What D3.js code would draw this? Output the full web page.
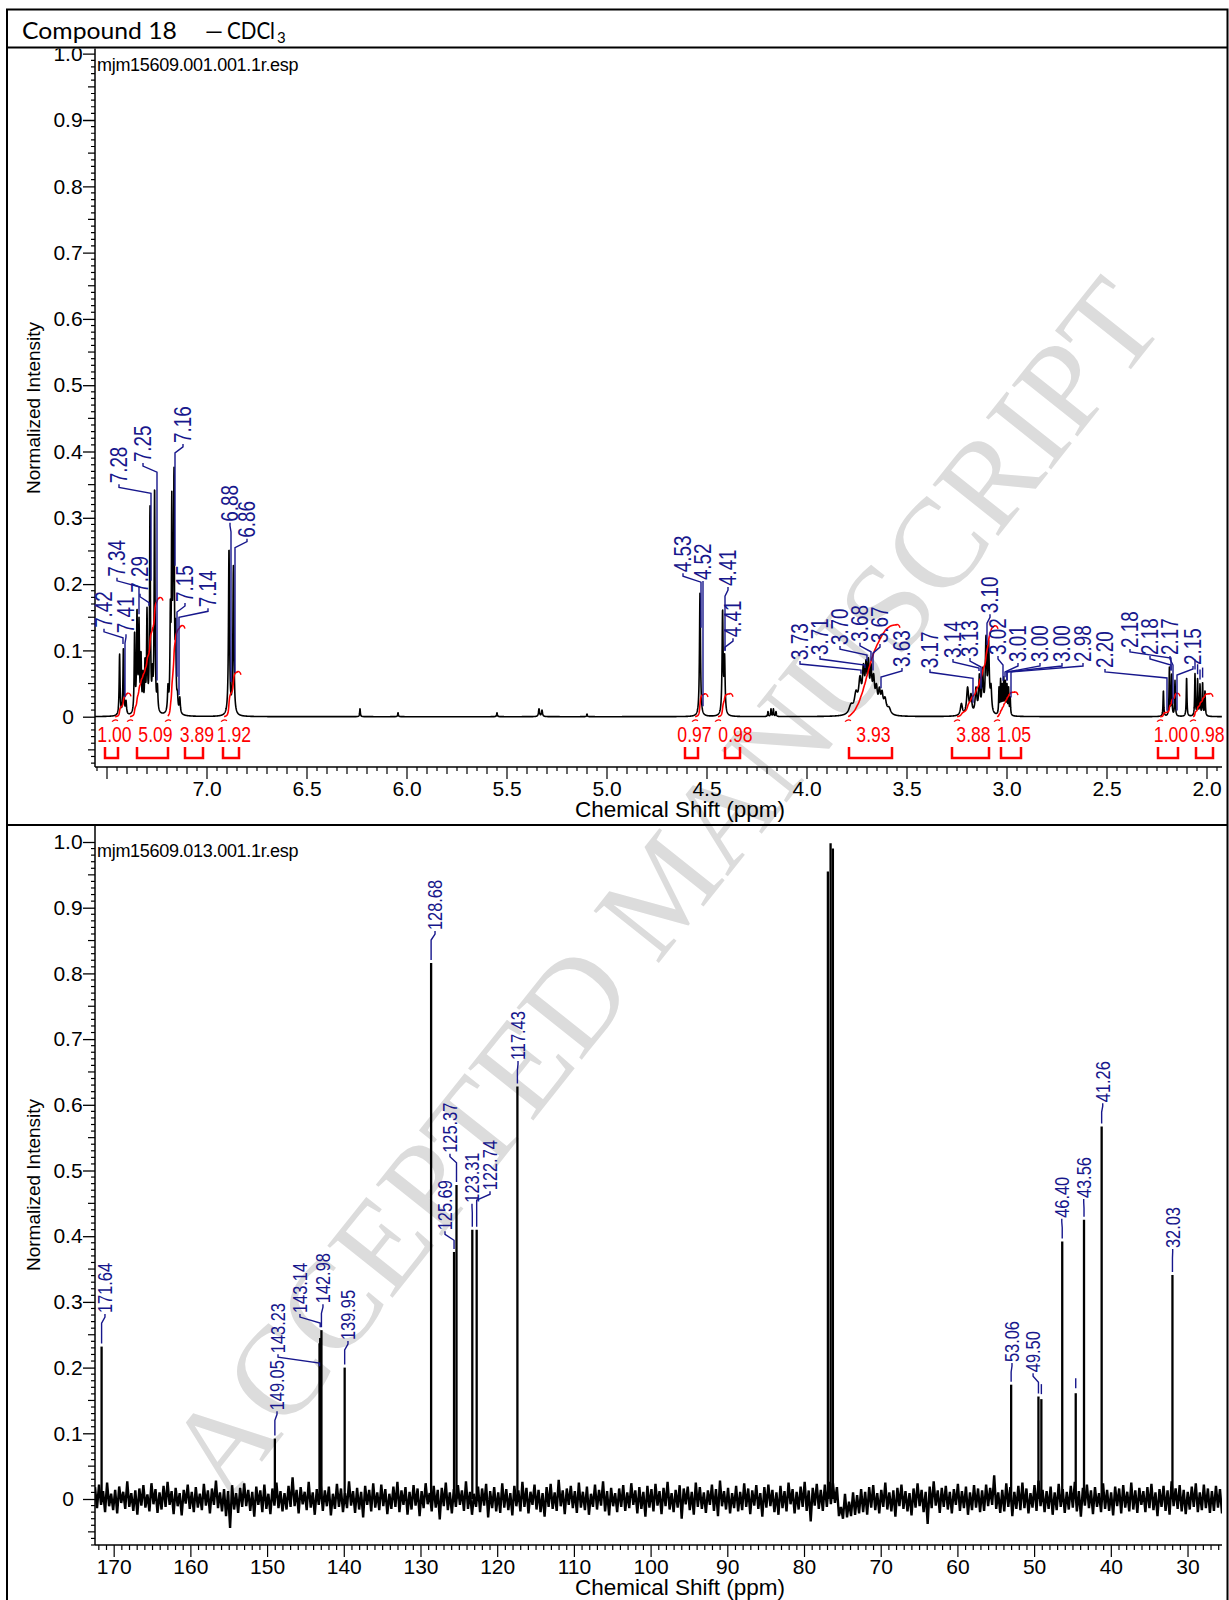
<!DOCTYPE html>
<html><head><meta charset="utf-8">
<script src="https://cdn.jsdelivr.net/npm/d3@7/dist/d3.min.js"></script>
<style>
html,body{margin:0;padding:0;background:#fff;}
</style></head><body>
<svg id="fig" width="1229" height="1600" xmlns="http://www.w3.org/2000/svg"></svg>
<script>
// ---------------- DATA ----------------
const titleParts = ["Compound 18", "\u2013", "CDCl", "3"];
const watermark = "ACCEPTED MANUSCRIPT";
const axisTitleX = "Chemical Shift (ppm)";
const axisTitleY = "Normalized Intensity";
const h1FileName = "mjm15609.001.001.1r.esp";
const c13FileName = "mjm15609.013.001.1r.esp";

const h1Domain = [7.56, 1.925];
const c13Domain = [172.5, 25.57];
const intensityTickLabels = ["0","0.1","0.2","0.3","0.4","0.5","0.6","0.7","0.8","0.9","1.0"];
const h1TickLabels = ["7.0","6.5","6.0","5.5","5.0","4.5","4.0","3.5","3.0","2.5","2.0"];
const c13TickLabels = ["170","160","150","140","130","120","110","100","90","80","70","60","50","40","30"];

// 1H peaks: [ppm, height, half-width (ppm)]
const h1Peaks = [
 [7.437,0.095,0.0025],[7.418,0.105,0.0025],[7.405,0.025,0.003],
 [7.362,0.13,0.0025],[7.350,0.165,0.0025],[7.340,0.15,0.0025],[7.330,0.10,0.0025],[7.320,0.07,0.0025],
 [7.310,0.09,0.0025],[7.300,0.165,0.0025],[7.285,0.32,0.0025],[7.273,0.08,0.0025],[7.262,0.35,0.0025],[7.248,0.05,0.003],
 [7.195,0.05,0.003],[7.183,0.18,0.0025],[7.176,0.34,0.0022],[7.170,0.22,0.0022],[7.165,0.38,0.0022],[7.157,0.15,0.0025],
 [7.148,0.04,0.003],[7.136,0.03,0.003],
 [6.890,0.255,0.003],[6.868,0.228,0.003],
 [6.235,0.012,0.002],[6.045,0.006,0.002],[5.55,0.006,0.002],[5.34,0.012,0.003],[5.325,0.01,0.003],[5.10,0.004,0.002],
 [4.535,0.187,0.003],[4.422,0.163,0.003],[4.412,0.095,0.003],
 [4.195,0.008,0.002],[4.18,0.012,0.002],[4.168,0.012,0.002],[4.155,0.008,0.002],
 [3.78,0.02,0.012],[3.755,0.04,0.01],[3.735,0.062,0.008],[3.718,0.08,0.006],[3.705,0.086,0.005],[3.693,0.089,0.005],
 [3.68,0.08,0.005],[3.667,0.065,0.006],[3.653,0.05,0.006],[3.638,0.045,0.006],[3.625,0.04,0.006],[3.61,0.03,0.008],[3.59,0.015,0.01],
 [3.228,0.02,0.006],[3.197,0.045,0.006],[3.18,0.035,0.005],[3.155,0.045,0.005],[3.138,0.065,0.004],[3.122,0.075,0.004],
 [3.105,0.123,0.004],[3.092,0.115,0.004],[3.08,0.05,0.004],
 [3.040,0.045,0.002],[3.032,0.058,0.002],[3.024,0.05,0.002],[3.016,0.06,0.002],[3.008,0.055,0.002],[3.000,0.05,0.002],
 [2.992,0.045,0.002],[2.984,0.03,0.002],
 [2.218,0.04,0.002],[2.188,0.075,0.002],[2.177,0.065,0.002],[2.16,0.055,0.002],[2.102,0.06,0.002],
 [2.06,0.065,0.002],[2.047,0.058,0.002],[2.035,0.05,0.002],[2.022,0.053,0.002],[2.01,0.04,0.002]
];
// 1H peak labels: [text, label position (ppm), label foot (intensity)]
const h1Labels = [
 ["7.42",7.515,0.134],["7.41",7.405,0.126],["7.34",7.45,0.211],["7.29",7.335,0.187],
 ["7.28",7.44,0.352],["7.25",7.32,0.384],["7.16",7.12,0.413],["7.15",7.11,0.173],["7.14",6.995,0.165],
 ["6.88",6.885,0.294],["6.86",6.80,0.270],
 ["4.53",4.62,0.218],["4.52",4.52,0.206],["4.41",4.395,0.197],["4.41",4.37,0.120],
 ["3.73",4.035,0.0855],["3.71",3.935,0.093],["3.70",3.835,0.108],["3.68",3.735,0.113],["3.67",3.635,0.111],["3.63",3.525,0.075],
 ["3.17",3.385,0.073],["3.14",3.27,0.0885],["3.13",3.185,0.090],["3.10",3.085,0.156],
 ["3.02",3.045,0.093],["3.01",2.945,0.0825],["3.00",2.835,0.0825],["3.00",2.725,0.0825],["2.98",2.62,0.0825],
 ["2.20",2.51,0.0735],["2.18",2.385,0.1036],["2.18",2.285,0.093],["2.17",2.185,0.093],["2.15",2.07,0.078]
];
// picked but unlabelled 1H peaks (ppm)
const h1Marks = [2.06, 2.047, 2.035, 2.022];
// integrals: [value, curve from, curve to, bracket from, bracket to] (ppm)
const h1Integrals = [
 [1.00,7.46,7.395,7.51,7.445],[5.09,7.385,7.235,7.35,7.195],[3.89,7.195,7.125,7.11,7.02],[1.92,6.915,6.845,6.92,6.84],
 [0.97,4.56,4.51,4.61,4.545],[0.98,4.445,4.385,4.41,4.335],[3.93,3.795,3.55,3.79,3.575],[3.88,3.25,3.06,3.275,3.09],
 [1.05,3.05,2.96,3.03,2.93],[1.00,2.235,2.15,2.245,2.145],[0.98,2.07,1.985,2.055,1.97]
];
const integralScale = 0.0353;

// 13C peaks: [ppm, height]
const c13Peaks = [
 [171.64,0.232],[149.05,0.092],[143.23,0.237],[143.14,0.245],[142.98,0.257],[139.95,0.20],[128.68,0.816],
 [125.69,0.376],[125.37,0.478],[123.31,0.41],[122.74,0.41],[117.43,0.628],
 [76.95,0.955],[76.6,0.998],[76.3,0.99],
 [53.06,0.174],[49.50,0.156],[49.12,0.152],[46.40,0.392],[44.64,0.161],[43.56,0.425],[41.26,0.567],[32.03,0.341]
];
const c13Labels = [
 ["171.64",171.2,0.283],["149.05",148.77,0.135],["143.23",148.64,0.222],["143.14",145.78,0.283],["142.98",142.78,0.298],
 ["139.95",139.52,0.242],["128.68",128.17,0.866],["125.69",126.87,0.409],["125.37",126.22,0.527],["123.31",123.35,0.451],
 ["122.74",121.0,0.470],["117.43",117.35,0.668],["53.06",52.95,0.2085],["49.50",50.2,0.193],["46.40",46.46,0.428],
 ["43.56",43.6,0.458],["41.26",41.12,0.604],["32.03",32.0,0.382]
];
const c13Marks = [44.64, 49.12];
// 13C baseline noise (x 0.001 intensity), evenly spaced across the ppm range
const c13Noise = [
18,-14,22,-9,12,-20,25,-11,8,-17,14,-22,19,-6,11,-15,27,-12,9,-18,
13,-24,16,-10,21,-13,7,-19,24,-8,15,-21,10,-16,20,-12,26,-9,12,-23,
17,-11,9,-25,14,-7,22,-15,11,-20,18,-13,8,-17,23,-10,13,-22,16,-9,
28,-14,10,-19,15,-26,12,-44,21,-16,9,-21,17,-12,24,-11,14,-18,11,-27,
19,-9,13,-20,22,-15,8,-23,16,-10,25,-14,12,-19,9,-16,20,-12,33,-11,
14,-22,18,-8,11,-17,26,-13,10,-24,15,-9,21,-18,13,-11,19,-25,8,-15,
23,-12,16,-20,9,-14,27,-10,12,-21,17,-16,11,-28,20,-9,14,-19,24,-13,
10,-17,22,-11,15,-23,8,-15,19,-12,26,-20,13,-9,18,-24,11,-16,21,-10,
16,-26,12,-14,24,-8,9,-19,20,-13,14,-31,17,-11,25,-17,10,-22,15,-12,
21,-9,13,-18,27,-15,11,-24,8,-12,19,-20,16,-10,23,-28,12,-14,18,-19,
10,-21,24,-13,15,-17,9,-25,20,-11,13,-19,26,-12,17,-22,11,-9,22,-16,
14,-20,9,-27,18,-12,23,-15,10,-18,29,-11,13,-23,16,-9,20,-14,12,-21,
25,-13,11,-17,19,-24,8,-12,22,-16,14,-10,27,-19,12,-25,17,-11,9,-20,
16,-12,21,-18,10,-14,24,-9,13,-22,18,-15,11,-27,20,-13,15,-19,23,-10,
12,-23,17,-11,26,-16,9,-20,14,-13,21,-30,16,-8,19,-17,11,-24,25,-12,
18,-15,10,-21,13,-9,22,-18,15,-26,28,-11,12,-16,17,-22,9,-14,20,-19,
11,-17,24,-12,16,-23,13,-10,21,-15,9,-27,18,-13,22,-11,14,-20,10,-24,
20,-14,12,-19,25,-8,15,-22,11,-16,19,-12,26,-18,13,-34,17,-10,23,-15,
14,-18,22,-12,26,-8,24,-6,18,-26,-12,-30,8,-28,-4,-26,10,-24,6,-22,
15,-20,11,-24,18,-13,21,-17,9,-22,14,-12,25,-16,10,-19,13,-27,17,-11,
22,-15,12,-19,9,-25,16,-13,24,-11,14,-20,11,-38,19,-14,27,-10,13,-21,
17,-12,20,-16,11,-22,15,-9,23,-18,12,-14,19,-24,10,-17,21,-13,16,-20,
13,-18,22,-11,17,-9,36,-15,10,-21,14,-19,24,-12,18,-26,11,-15,20,-17,
25,-14,16,-22,9,-13,21,-18,28,-11,14,-20,12,-15,19,-24,10,-17,23,-12,
15,-21,11,-16,20,-13,26,-19,12,-27,17,-10,22,-14,13,-23,18,-12,9,-20,
24,-15,14,-18,10,-25,19,-11,16,-22,21,-13,11,-19,25,-16,13,-21,17,-9,
12,-20,18,-14,23,-17,10,-26,15,-12,20,-18,13,-24,27,-11,16,-15,21,-19,
14,-23,11,-16,19,-12,24,-20,10,-17,22,-14,16,-21,12,-18,20,-13,15,-22
];

// ---------------- STYLE / LAYOUT ----------------
const SANS = "'Liberation Sans',Arial,Helvetica,sans-serif";
const BLUE = "#17178c", RED = "#ff0000", NARROW = 0.82;
const PL = 95, PR = 1222;
const svg = d3.select("#fig").style("font-family", SANS);
const defs = svg.append("defs");
function clip(id,x,y,w,h){ defs.append("clipPath").attr("id",id).append("rect").attr("x",x).attr("y",y).attr("width",w).attr("height",h); return `url(#${id})`; }
svg.append("rect").attr("width",1229).attr("height",1600).attr("fill","#fff");

// watermark (behind)
const wm = svg.append("text").text(watermark)
 .style("font-family","'Liberation Serif','DejaVu Serif',serif").attr("font-size",120)
 .attr("fill","#dcdcdc").attr("text-anchor","middle").attr("dominant-baseline","central")
 .attr("transform","translate(664,888) rotate(-51.5)");
{ const wl = wm.node().getComputedTextLength(); wm.attr("font-size", 120*1510/wl); }

function narrow(g, x, y, rot, size, txt, fill, anchor){
  return g.append("text").attr("transform",`translate(${x},${y}) rotate(${rot}) scale(${NARROW},1)`)
    .attr("font-size",size).attr("fill",fill).attr("text-anchor",anchor||"start").text(txt);
}

// ---------------- 1H model ----------------
const H = h1Peaks.map(d=>({x:d[0], t:d[1], w:d[2], a:d[1]}));
function hAt(x){ let s=0; for(const p of H){ const d=(x-p.x)/p.w; if(d>-500&&d<500) s+=p.a/(1+d*d);} return s; }
for(let it=0; it<80; it++){ for(const p of H){ const s=hAt(p.x); p.a=Math.max(0.0003, p.a+0.5*(p.t-s)); } }
const h1Spec = [];
for(let x=h1Domain[0]; x>=h1Domain[1]; x-=0.0008) h1Spec.push([x, hAt(x)]);
function hTop(ppm){ let m=0; for(let k=-3;k<=3;k++) m=Math.max(m,hAt(ppm+k*0.001)); return m; }

function drawAxes(g, x, y, yBottom, yTopPx, xTickVals, xTickLen, xLabels){
  d3.range(-7,101).forEach(i=>{
    if(i%10===0) return;
    const len = i%5===0 ? 7 : 4, yy = y(i/100);
    if(yy>yBottom) return;
    g.append("line").attr("x1",PL-len).attr("x2",PL).attr("y1",yy).attr("y2",yy).attr("stroke","#000").attr("stroke-width",1.2);
  });
  const ay = d3.axisLeft(y).tickValues(d3.range(0,11).map(i=>i/10)).tickSize(12).tickSizeOuter(0)
     .tickFormat((d,i)=>intensityTickLabels[i]);
  const gy = g.append("g").attr("transform",`translate(${PL},0)`).call(ay);
  gy.select(".domain").remove();
  gy.attr("font-size",21).attr("font-family",SANS);
  gy.selectAll("line").attr("stroke-width",1.3);
  gy.selectAll("text").attr("x",-27).attr("text-anchor","middle").attr("fill","#000");
  xTickVals.forEach(v=>{
    const len = xTickLen(v), xx = x(v);
    g.append("line").attr("x1",xx).attr("x2",xx).attr("y1",yBottom).attr("y2",yBottom+len).attr("stroke","#000").attr("stroke-width",1.2);
  });
  xLabels.forEach(t=>{
    g.append("text").attr("x",x(+t)).attr("y",yBottom+28.5).attr("text-anchor","middle").attr("font-size",21).text(t);
  });
  g.append("line").attr("x1",PL).attr("x2",PL).attr("y1",yTopPx).attr("y2",yBottom).attr("stroke","#000").attr("stroke-width",1.5);
  g.append("line").attr("x1",PL).attr("x2",PR).attr("y1",yBottom).attr("y2",yBottom).attr("stroke","#000").attr("stroke-width",1.5);
}

function leaderPath(lx, tb, px, topY){
  const y1 = tb + 4, y2 = tb + 10;
  const yEnd = Math.max(topY - 3, y2 + 3);
  return `M${lx},${tb+1}L${lx},${y1}L${px},${y2}L${px},${yEnd}`;
}

// ---------------- TOP PANEL (1H) ----------------
const xH = d3.scaleLinear().domain(h1Domain).range([PL,PR]);
const yH = d3.scaleLinear().domain([0,1]).range([716.7,53.7]);
const gT = svg.append("g").attr("clip-path", clip("cTop",7,48.5,1220,776));
const topBottom = 767;

const h1TickVals = d3.range(39,152).map(i=>i*0.05);
drawAxes(gT, xH, yH, topBottom, 48, h1TickVals,
  v=>{ const i=Math.round(v/0.05); return i%10===0?12:(i%2===0?7:4); }, h1TickLabels);

gT.append("text").attr("x",97).attr("y",71).attr("font-size",18).attr("letter-spacing",-0.3).text(h1FileName);
gT.append("text").attr("transform","translate(40,408) rotate(-90)").attr("text-anchor","middle").attr("font-size",19).text(axisTitleY);
gT.append("text").attr("x",680).attr("y",817).attr("text-anchor","middle").attr("font-size",22.5).text(axisTitleX);

const gTP = gT.append("g").attr("clip-path", clip("cTopPlot",PL,48.5,PR-PL,topBottom-48.5));
gTP.append("path").datum(h1Spec)
  .attr("d", d3.line().x(d=>xH(d[0])).y(d=>yH(d[1])))
  .attr("fill","none").attr("stroke","#000").attr("stroke-width",1.6).attr("stroke-linejoin","round");

// integrals
h1Integrals.forEach(([val,f,t,bf,bt])=>{
  const pts = h1Spec.filter(d=>d[0]<=f && d[0]>=t);
  let c=0; const cum = pts.map(d=>{ c+=d[1]; return [d[0], c]; });
  const tot = c || 1;
  const curve = cum.map(d=>[d[0], d[1]/tot*val*integralScale]);
  gTP.append("path").datum(curve).attr("d", d3.line().x(d=>xH(d[0])).y(d=>yH(d[1])))
    .attr("fill","none").attr("stroke",RED).attr("stroke-width",1.6);
  const xs = xH(f), xe = xH(t), ye = yH(val*integralScale), y0 = yH(0);
  gTP.append("path").attr("d",`M${xe-1},${ye}q3,-1 4,3`).attr("fill","none").attr("stroke",RED).attr("stroke-width",1.4);
  gTP.append("path").attr("d",`M${xs-3},${y0+5}q3,-3 6,-1`).attr("fill","none").attr("stroke",RED).attr("stroke-width",1.2);
  const x1 = xH(bf), x2 = xH(bt);
  gTP.append("path").attr("d",`M${x1},747V758H${x2}V747`).attr("fill","none").attr("stroke",RED).attr("stroke-width",2.5);
  narrow(gT, (x1+x2)/2+3, 742, 0, 21.5, val.toFixed(2), RED, "middle");
});

// peak labels
h1Labels.forEach(([t,lp,lv])=>{
  const pk = +t, lx = xH(lp), tb = yH(lv), px = xH(pk), top = yH(hTop(pk));
  gT.append("path").attr("d",leaderPath(lx,tb,px,top)).attr("fill","none").attr("stroke",BLUE).attr("stroke-width",1.4);
  narrow(gT, lx, tb, -90, 23, t, BLUE).attr("dominant-baseline","central");
});
h1Marks.forEach(p=>{
  const top = yH(hTop(p)), xx = xH(p);
  gT.append("line").attr("x1",xx).attr("x2",xx).attr("y1",top-14).attr("y2",top-4).attr("stroke",BLUE).attr("stroke-width",1.4);
});

// ---------------- BOTTOM PANEL (13C) ----------------
const xC = d3.scaleLinear().domain(c13Domain).range([PL,PR]);
const yC = d3.scaleLinear().domain([0,1]).range([1499,842]);
const gB = svg.append("g").attr("clip-path", clip("cBot",7,826,1220,774));
const botBottom = 1545;
const c13TickVals = d3.range(26,173);
drawAxes(gB, xC, yC, botBottom, 826, c13TickVals, v=>(v%10===0?12:5), c13TickLabels);
gB.append("text").attr("x",97).attr("y",857).attr("font-size",18).attr("letter-spacing",-0.3).text(c13FileName);
gB.append("text").attr("transform","translate(40,1185) rotate(-90)").attr("text-anchor","middle").attr("font-size",19).text(axisTitleY);
gB.append("text").attr("x",680).attr("y",1595).attr("text-anchor","middle").attr("font-size",22.5).text(axisTitleX);

const gBP = gB.append("g").attr("clip-path", clip("cBotPlot",PL,826,PR-PL,botBottom-826));
const nStep = (c13Domain[0]-c13Domain[1])/(c13Noise.length-1);
const noisePts = c13Noise.map((v,i)=>[c13Domain[0]-i*nStep, v/1000]);
gBP.append("path").datum(noisePts).attr("d", d3.line().x(d=>xC(d[0])).y(d=>yC(d[1])))
  .attr("fill","none").attr("stroke","#000").attr("stroke-width",2.4).attr("stroke-linejoin","miter");
gBP.selectAll("line.pk").data(c13Peaks).join("line").attr("class","pk")
  .attr("x1",d=>xC(d[0])).attr("x2",d=>xC(d[0])).attr("y1",yC(0)).attr("y2",d=>yC(d[1]))
  .attr("stroke","#000").attr("stroke-width",2.3);

c13Labels.forEach(([t,lp,lv])=>{
  const pk = +t; let h = 0.03;
  c13Peaks.forEach(p=>{ if(Math.abs(p[0]-pk)<0.3) h=Math.max(h,p[1]); });
  const lx = xC(lp), tb = yC(lv), px = xC(pk), top = yC(h);
  gB.append("path").attr("d",leaderPath(lx,tb,px,top)).attr("fill","none").attr("stroke",BLUE).attr("stroke-width",1.4);
  narrow(gB, lx, tb, -90, 20, t, BLUE).attr("dominant-baseline","central");
});
c13Marks.forEach(p=>{
  const pk = c13Peaks.find(d=>Math.abs(d[0]-p)<0.01), xx = xC(p), top = yC(pk ? pk[1] : 0);
  gB.append("line").attr("x1",xx).attr("x2",xx).attr("y1",top-15).attr("y2",top-5).attr("stroke",BLUE).attr("stroke-width",1.4);
});

// ---------------- FRAME + TITLE ----------------
svg.append("path").attr("d","M7,1605V9.5H1227.5V1605").attr("fill","none").attr("stroke","#000").attr("stroke-width",2);
svg.append("line").attr("x1",7).attr("x2",1228).attr("y1",47.5).attr("y2",47.5).attr("stroke","#000").attr("stroke-width",2);
svg.append("line").attr("x1",7).attr("x2",1228).attr("y1",825).attr("y2",825).attr("stroke","#000").attr("stroke-width",2);

const TF = 23;
const gTitle = svg.append("g").style("font-family","Lato,'Open Sans',sans-serif").attr("font-size",TF);
function condensed(x, y, txt, width, size){
  const t = gTitle.append("text").attr("font-size",size).text(txt);
  const w = t.node().getComputedTextLength();
  const sx = width ? width/w : 1;
  t.attr("transform",`translate(${x},${y}) scale(${sx},1)`);
  return w*sx;
}
condensed(22, 39, titleParts[0], 155, TF);
condensed(203, 39, titleParts[1], 22, TF);
const wC = condensed(227, 39, titleParts[2], 48, TF);
condensed(227+wC+2, 43, titleParts[3], 0, 15);
</script>
</body></html>
